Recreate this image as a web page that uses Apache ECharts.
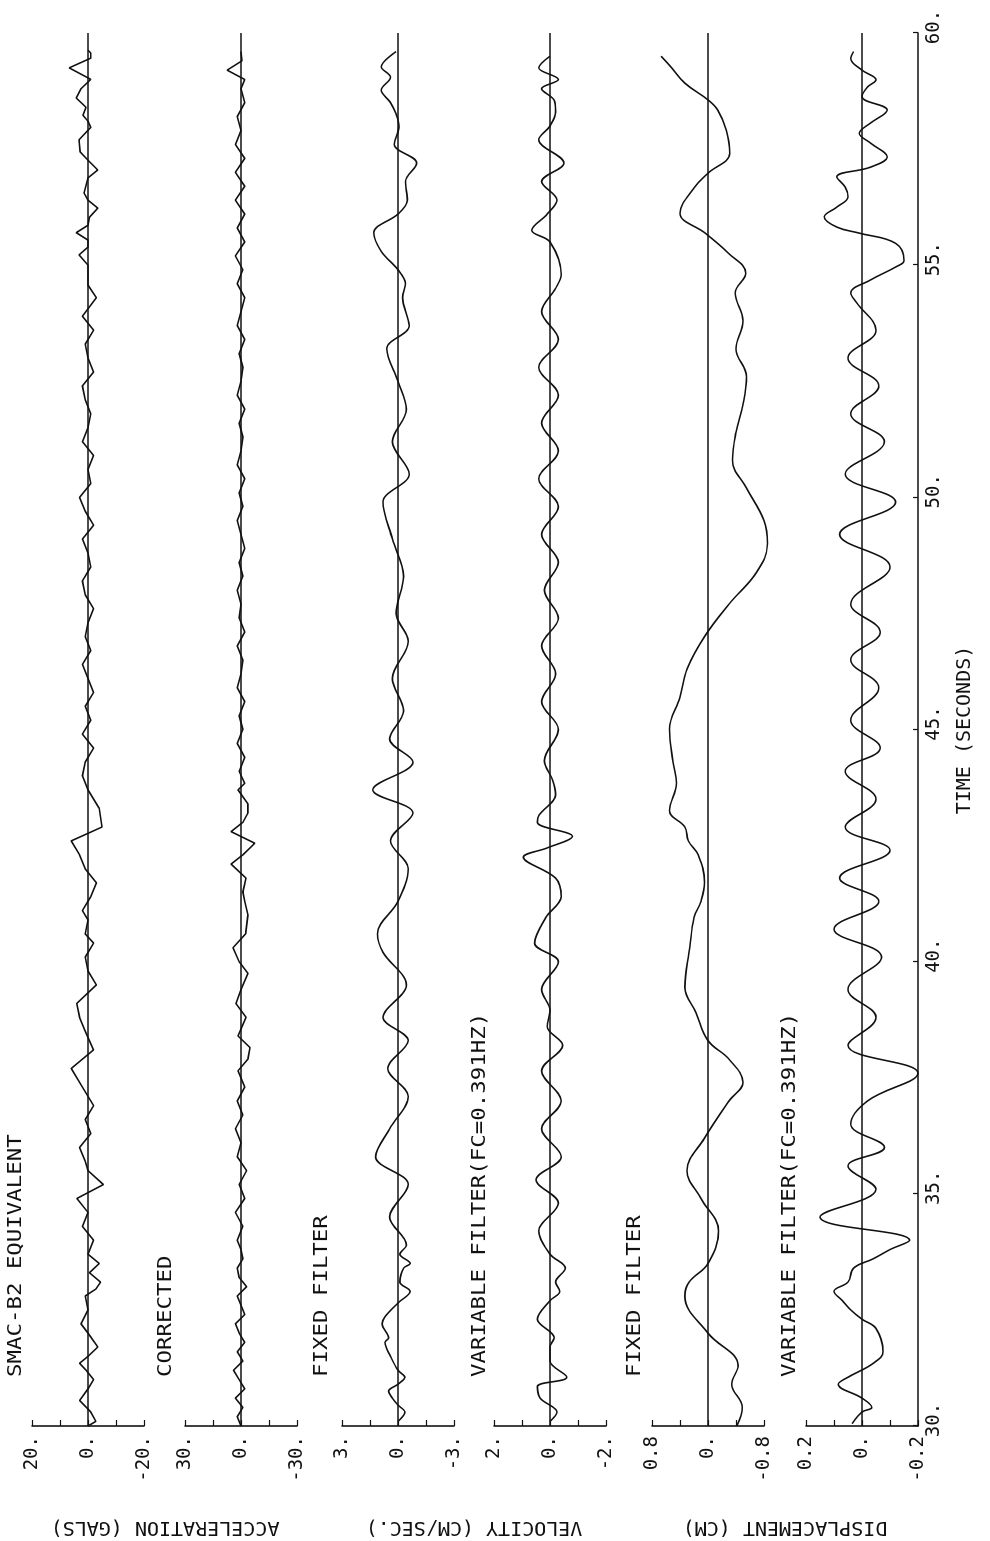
<!DOCTYPE html>
<html>
<head>
<meta charset="utf-8">
<script src="https://cdn.jsdelivr.net/npm/echarts@6/dist/echarts.min.js"></script>
<style>
  html, body { margin: 0; padding: 0; background: #fff; overflow: hidden; width: 990px; height: 1541px; }
  /* the plot is laid out landscape, then turned a quarter left like the scanned sheet */
  #chart { position: absolute; left: 0; top: 0; width: 1541px; height: 990px;
           transform-origin: 0 0; transform: translate(0, 1541px) rotate(-90deg); }
</style>
</head>
<body>
<div id="chart"></div>
<script>
// ---------- traces (time in s, value in panel units) ----------
const acc1T = [30.0,30.1,30.3,30.55,30.8,31.0,31.2,31.35,31.5,31.7,32.0,32.2,32.5,32.8,32.95,33.1,33.3,33.5,33.7,
  34.0,34.3,34.6,34.9,35.2,35.5,35.7,36.0,36.3,36.6,36.9,37.3,37.7,38.1,38.5,38.8,39.1,39.5,39.8,40.1,40.4,40.6,40.9,41.1,41.4,41.7,42.0,
  42.3,42.6,42.9,43.3,43.7,44.0,44.3,44.6,44.9,45.2,45.5,45.8,46.1,46.4,46.7,47.0,47.3,47.6,47.9,48.2,48.5,48.8,49.1,49.4,49.7,50.0,
  50.3,50.6,50.9,51.2,51.5,51.8,52.1,52.4,52.7,53.0,53.3,53.6,53.9,54.3,54.57,54.78,55.0,55.22,55.39,55.54,55.7,55.86,56.03,56.23,
  56.4,56.55,56.88,57.05,57.26,57.44,57.7,57.97,58.1,58.23,58.4,58.6,58.8,59.0,59.25,59.46,59.57,59.63];
const acc1V = [0,-2.8,-1,3,0,-2,0.7,3,0,-3.5,0,2.5,0,1,-2.8,-4.5,-0.5,-4,0,
  -2,2,0,4,-5.5,0,1,3,-1,1,-2,2,6,-2,1,3,4,-3,0,1,-2,1,0,2,-1,-3,1,
  3,6,-5,-4,0,2,1,-2,2,-1,1,-2,0,2,-1,1,0,-2,1,2,-1,0,2,-2,1,3,
  -1,0,-2,2,0,-1,1,2,-2,0,1,-2,2,-3,0,0,0,3.2,0,0,4.2,0,-0.5,-3.5,
  0,1.4,0,-3.5,0,2.8,3.2,-1,0,1.8,0.7,4.2,2.5,-1,6.7,-1,-1,0];

const acc2T = [30.0,30.2,30.4,30.6,30.8,31.0,31.2,31.4,31.6,31.8,32.0,32.2,32.4,32.6,32.8,33.0,33.2,33.4,33.6,33.8,
  34.0,34.3,34.6,34.9,35.2,35.5,35.8,36.1,36.4,36.7,37.0,37.3,37.65,37.9,38.15,38.4,38.8,39.1,39.4,39.75,40.0,40.3,40.6,
  41.0,41.3,41.5,41.8,42.1,42.3,42.55,42.8,43.0,43.2,43.4,43.7,43.84,44.1,44.4,44.7,45.0,45.3,45.6,45.9,46.2,46.5,46.8,
  47.1,47.4,47.7,48.0,48.3,48.6,48.9,49.2,49.5,49.8,50.1,50.4,50.7,51.0,51.3,51.6,51.9,52.2,52.5,52.8,53.1,53.4,53.7,
  54.0,54.3,54.6,54.9,55.2,55.5,55.8,56.1,56.4,56.7,57.0,57.3,57.6,57.9,58.2,58.5,58.8,59.0,59.2,59.4,59.6];
const acc2V = [0,2,-1,3,-2,1,4,-1,2,-2,1,3,-2,0,2,-3,1,2,-1,0,
  2,-1,3,-2,1,-3,2,0,3,-1,2,-2,1.6,-3.7,-4.8,1.6,-2.7,2.7,0,-3.7,1,4.3,-2.5,
  -3.7,-2,-1,-2.7,5.3,-1,-7.4,5.3,-1,-3.7,-3.7,1.6,-2,1,-2,2,-1,1,-2,2,0,-1,2,
  -2,1,0,2,-1,1,-2,0,2,-1,1,-2,2,0,-1,1,-2,2,0,-1,1,-2,2,
  0,-2,2,-1,3,-2,2,-2,3,-2,3,-2,3,0,2,-2,0,-2,7.4,-0.5,0];

const vel1T = [30.1,30.3,30.45,30.6,30.75,30.9,31.05,31.2,31.5,31.8,31.9,32.2,32.35,32.65,32.9,33.1,33.4,33.5,33.7,33.9,
  34.5,35.2,35.8,36.4,37.1,37.7,38.3,38.8,39.5,40.2,40.6,41.3,42.0,42.6,43.2,43.7,44.3,44.8,45.4,46.1,46.9,47.5,48.3,49.1,
  49.9,50.5,51.2,51.9,52.5,53.2,53.7,54.3,54.6,54.9,55.3,55.7,56.1,56.4,56.8,57.2,57.6,58.0,58.25,58.5,58.77,59.05,59.27,59.6];
const vel1V = [0,-0.37,0,0.3,0.5,0,-0.37,0,0.4,0.7,0.5,0.85,0.7,0,-0.65,-0.1,-0.3,-0.65,-0.1,-0.45,
  0.45,-0.55,1.2,0.45,-0.55,0.55,-0.55,0.8,-0.45,0.8,1.1,0,-0.55,0.4,-0.8,1.35,-0.8,0.45,-0.3,0.3,-0.55,0.1,-0.3,0.3,
  0.8,-0.6,0.3,-0.45,0,0.6,-0.6,-0.25,-0.4,0,0.9,1.3,0,-0.5,-0.4,-1.0,0.2,-0.05,0.1,0.4,0.9,0.4,0.9,0.1];

const vel2T = [30.1,30.3,30.6,30.85,31.05,31.4,31.7,31.9,32.3,32.7,32.9,33.1,33.4,33.7,34.2,34.8,35.3,35.8,36.4,37.0,37.65,38.2,
  38.6,38.95,39.4,40.0,40.4,40.95,41.4,41.8,42.25,42.45,42.7,43.0,43.15,43.6,43.9,44.33,45.0,45.6,46.2,46.8,47.4,48.0,48.6,49.2,
  49.8,50.4,51.0,51.6,52.2,52.8,53.4,54.0,54.5,54.8,55.5,55.75,56.1,56.4,56.8,57.2,57.7,58.0,58.3,58.55,58.8,59.0,59.25,59.5];
const vel2V = [0,-0.25,0.35,0.45,-0.6,0,0,-0.15,0.45,0,-0.35,-0.2,-0.55,0,0.4,-0.3,0.5,-0.4,0.3,-0.4,0.3,-0.45,
  0.1,0,0.3,-0.3,0.55,0.15,-0.4,-0.2,0.95,0.1,-0.8,0.45,0.4,-0.2,-0.1,0.2,-0.3,0.3,-0.2,0.3,-0.3,0.2,-0.3,0.3,
  -0.3,0.4,-0.3,0.3,-0.3,0.4,-0.3,0.3,-0.2,-0.4,0,0.65,0.1,-0.25,0.3,-0.5,0.4,0,-0.2,-0.15,0.3,-0.3,0.4,0];

const disp1T = [30.0,30.4,30.9,31.3,32.0,32.8,33.1,33.5,34.2,34.9,35.5,36.2,37.0,37.4,37.9,38.3,38.9,39.45,40.3,40.95,41.3,41.7,42.3,42.6,42.9,
  43.25,43.85,44.3,45.0,45.7,46.3,47.0,47.7,48.4,49.0,49.5,50.2,50.8,51.4,52.0,52.6,53.2,53.8,54.4,54.83,55.26,55.69,56.12,56.68,56.98,
  57.41,57.91,58.34,58.56,58.92,59.27,59.5];
const disp1V = [-0.41,-0.49,-0.34,-0.43,0,0.33,0.27,0,-0.15,0.1,0.3,0.05,-0.3,-0.5,-0.3,0,0.17,0.33,0.26,0.2,0.1,0.05,0.14,0.28,0.33,
  0.55,0.45,0.5,0.55,0.4,0.3,0.05,-0.3,-0.7,-0.85,-0.8,-0.55,-0.35,-0.4,-0.5,-0.55,-0.4,-0.5,-0.39,-0.54,-0.29,0.04,0.4,0.19,0,
  -0.31,-0.26,-0.14,0,0.33,0.53,0.67];

const disp2T = [30.05,30.3,30.4,30.6,30.9,31.05,31.35,31.6,32.1,32.3,32.5,32.7,32.9,33.1,33.4,33.6,33.8,34.0,34.5,35.1,35.6,36.0,
  36.5,37.0,37.6,38.2,38.8,39.4,40.1,40.7,41.3,41.8,42.4,42.9,43.5,44.1,44.6,45.2,45.9,46.5,47.1,47.7,48.5,49.2,49.9,50.5,51.2,
  51.8,52.4,53.0,53.6,54.2,54.4,54.68,54.96,55.1,55.47,55.69,55.82,56.04,56.25,56.47,56.68,56.9,57.11,57.33,57.63,57.84,58.06,
  58.34,58.63,58.84,58.99,59.2,59.45,59.6];
const disp2V = [0.035,0,-0.035,0,0.085,0.05,-0.04,-0.075,-0.05,0,0.04,0.07,0.1,0.05,0.03,-0.04,-0.1,-0.17,0.15,-0.05,0.05,-0.08,
  0.04,-0.02,-0.2,0.05,-0.05,0.05,-0.07,0.1,-0.06,0.08,-0.1,0.06,-0.05,0.06,-0.065,0.04,-0.06,0.04,-0.065,0.04,-0.1,0.08,-0.12,0.06,-0.08,
  0.04,-0.06,0.05,-0.05,0.02,0.04,-0.03,-0.12,-0.15,-0.12,0.01,0.09,0.135,0.09,0.05,0.06,0.09,-0.03,-0.09,-0.03,0.01,-0.03,
  -0.09,0,-0.02,-0.05,0,0.04,0.03];

// ---------- panel labels ----------
const panelTitles = ['SMAC-B2 EQUIVALENT', 'CORRECTED', 'FIXED FILTER', 'VARIABLE FILTER(FC=0.391HZ)', 'FIXED FILTER', 'VARIABLE FILTER(FC=0.391HZ)'];
const panelMax = [20, 30, 3, 2, 0.8, 0.2];
const groupNames = ['ACCELERATION (GALS)', 'VELOCITY (CM/SEC.)', 'DISPLACEMENT (CM)'];
const timeName = 'TIME (SECONDS)';

const FONT = 'DejaVu Sans Mono';
const INK = '#111';

const traces = [
  { t: acc1T, v: acc1V, smooth: false },
  { t: acc2T, v: acc2V, smooth: false },
  { t: vel1T, v: vel1V, smooth: 0.35 },
  { t: vel2T, v: vel2V, smooth: 0.35 },
  { t: disp1T, v: disp1V, smooth: 0.4 },
  { t: disp2T, v: disp2V, smooth: 0.4 }
];

// panel placement in the landscape frame
const panelTop = [32, 185, 342, 494, 652, 806];
const panelH = 112;
const plotLeft = 115, plotWidth = 1393;
const titleY = [16, 166, 322, 480, 635, 790];
const groupY = [165, 474, 785];

function fmtTick(v) {
  const r = Math.round(v * 1000) / 1000;
  return Number.isInteger(r) ? r + '.' : String(r);
}

const chart = echarts.init(document.getElementById('chart'), null, { width: 1541, height: 990 });

const grid = panelTop.map(top => ({ left: plotLeft, width: plotWidth, top: top, height: panelH }));

const xAxis = panelTop.map((_, i) => ({
  gridIndex: i, type: 'value', min: 30, max: 60, interval: 5,
  show: i === panelTop.length - 1,
  axisLine: { onZero: false, lineStyle: { color: INK, width: 1.6 } },
  axisTick: { inside: true, length: 5, lineStyle: { color: INK, width: 1.2 } },
  axisLabel: { formatter: v => v + '.', fontFamily: FONT, fontSize: 19, color: INK, margin: 7, padding: [0, 0, 0, 12] },
  splitLine: { show: false }
}));

const yAxis = panelMax.map((m, i) => ({
  gridIndex: i, type: 'value', min: -m, max: m, interval: m / 2,
  axisLine: { show: true, onZero: false, lineStyle: { color: INK, width: 1.6 } },
  axisTick: { show: true, inside: true, length: 6, lineStyle: { color: INK, width: 1.2 } },
  axisLabel: {
    fontFamily: FONT, fontSize: 19, color: INK, margin: 10,
    formatter: v => (Math.abs(Math.abs(v) - m) < 1e-6 || Math.abs(v) < 1e-6) ? fmtTick(v) : ''
  },
  splitLine: { show: false }
}));

const series = traces.map((tr, i) => ({
  type: 'line', xAxisIndex: i, yAxisIndex: i,
  data: tr.t.map((t, k) => [t, tr.v[k]]),
  showSymbol: false, smooth: tr.smooth, clip: false,
  lineStyle: { color: INK, width: 1.6 },
  markLine: {
    silent: true, symbol: 'none', label: { show: false },
    lineStyle: { color: INK, width: 1.6, type: 'solid' },
    data: [{ yAxis: 0 }]
  }
}));

const graphic = [];
// panel captions: plotter lettering is widely spaced, so stretch a little
panelTitles.forEach((txt, i) => {
  graphic.push({ type: 'text', x: 164, y: titleY[i], scaleX: 1.12,
    style: { text: txt, font: '20px ' + FONT, fill: INK, textAlign: 'left', textVerticalAlign: 'middle' } });
});
groupNames.forEach((txt, i) => {
  graphic.push({ type: 'text', x: 14, y: groupY[i], rotation: Math.PI / 2,
    style: { text: txt, font: '20px ' + FONT, fill: INK, textAlign: 'center', textVerticalAlign: 'middle' } });
});
graphic.push({ type: 'text', x: 811, y: 965,
  style: { text: timeName, font: '20px ' + FONT, fill: INK, textAlign: 'center', textVerticalAlign: 'middle' } });

chart.setOption({
  animation: false,
  backgroundColor: '#fff',
  grid: grid,
  xAxis: xAxis,
  yAxis: yAxis,
  series: series,
  graphic: graphic
});
</script>
</body>
</html>
